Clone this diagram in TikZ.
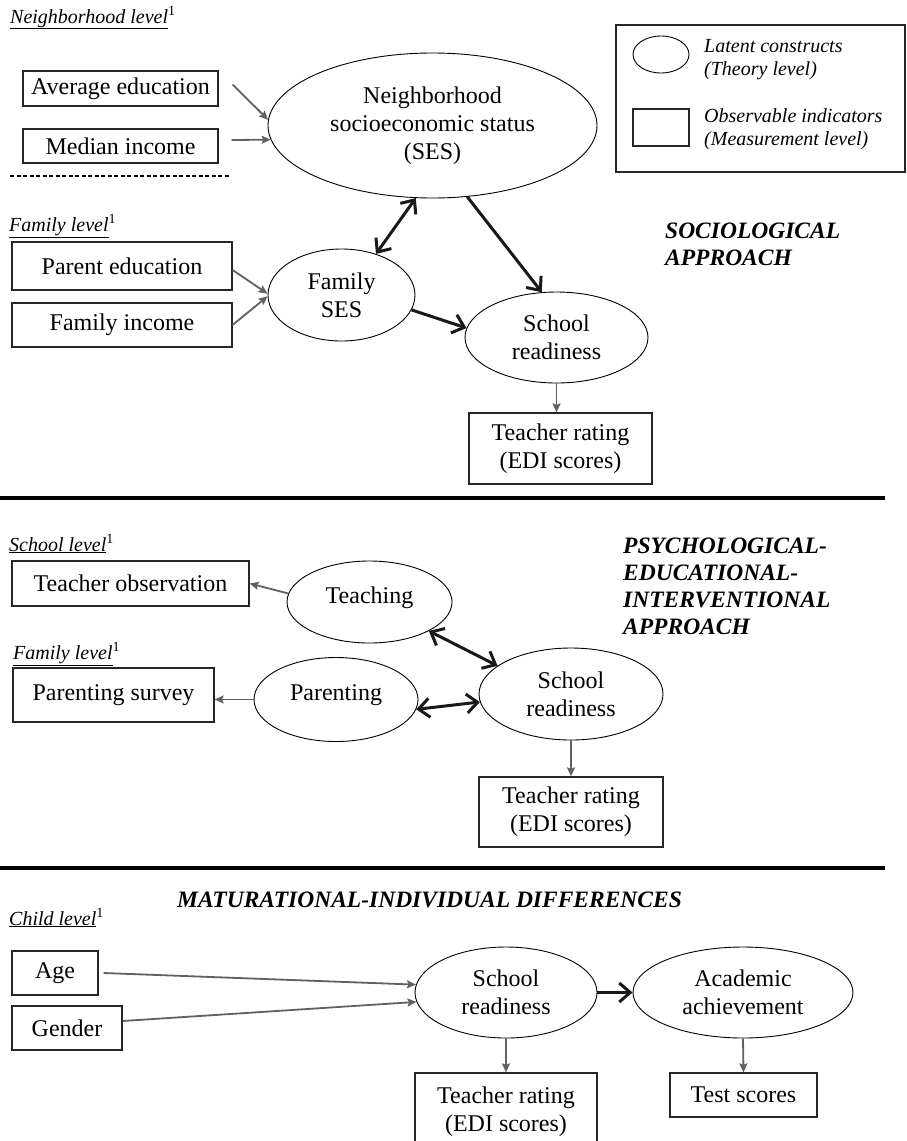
\documentclass[tikz,border=0pt]{standalone}
\usepackage{fontspec}
\setmainfont{Liberation Serif}
\usetikzlibrary{arrows.meta,shapes.geometric}
\newcommand{\nodefont}{\fontsize{24}{28}\selectfont}
\newcommand{\lvlfont}{\fontsize{20}{23}\selectfont}
\newcommand{\appfont}{\fontsize{23.5}{27}\selectfont\bfseries\itshape}
\begin{document}
\begin{tikzpicture}[x=1pt,y=-1pt,
  box/.style={draw=black!85, line width=1.2pt, rectangle, inner sep=0pt, font=\nodefont, align=center},
  lat/.style={draw, line width=0.9pt, ellipse, inner sep=0pt, font=\nodefont, align=center},
  garrow/.style={draw=black!62, line width=1.8pt, -{Stealth[length=9pt,width=8pt,inset=1.5pt]}},
  barrow/.style={draw=black!90, line width=3pt, -{Straight Barb[length=11pt,width=19pt]}},
  bdarrow/.style={draw=black!90, line width=3pt, {Straight Barb[length=11pt,width=19pt]}-{Straight Barb[length=11pt,width=19pt]}},
  lvl/.style={anchor=base west, inner sep=0pt, font=\lvlfont},
  app/.style={anchor=west, inner sep=0pt, align=left, font=\appfont},
  sepline/.style={line width=3.3pt, black},
  legtext/.style={anchor=west, inner sep=0pt, align=left, font=\lvlfont\itshape}
]
\useasboundingbox (0,0) rectangle (907,1141);
\clip (0,0) rectangle (907,1141);

% ---------------- Sociological approach ----------------
\node[lvl] (nlvl) at (10,23) {\underline{\textit{Neighborhood level}}\textsuperscript{1}};
\node[box, minimum width=195pt, minimum height=35pt] (avged) at (120.5,88.5) {Average education};
\node[box, minimum width=195pt, minimum height=34pt] (medinc) at (120.5,146) {Median income};
\draw[line width=1.3pt, dash pattern=on 4pt off 2.5pt] (10,176) -- (230,176);
\node[lat, minimum width=329pt, minimum height=145pt] (nses) at (432.5,125.5) {Neighborhood\\socioeconomic status\\(SES)};

\node[draw=black!85, line width=1.2pt, minimum width=289pt, minimum height=147pt, inner sep=0pt] (legend) at (760.5,98.5) {};
\node[lat, minimum width=56pt, minimum height=37pt] (lgell) at (661,54.5) {};
\node[box, minimum width=56pt, minimum height=37pt] (lgbox) at (661,127.5) {};
\node[legtext] (lgt1) at (704,59.5) {Latent constructs\\(Theory level)};
\node[legtext] (lgt2) at (704,129.5) {Observable indicators\\(Measurement level)};

\node[lvl] (flvl) at (9,231) {\underline{\textit{Family level}}\textsuperscript{1}};
\node[box, minimum width=220pt, minimum height=48pt] (pared) at (122,266) {Parent education};
\node[box, minimum width=220pt, minimum height=44pt] (faminc) at (122,325) {Family income};
\node[lat, minimum width=147pt, minimum height=92pt] (fses) at (341.5,295) {Family\\SES};
\node[lat, minimum width=183pt, minimum height=91pt] (sr1) at (556.5,337.5) {School\\readiness};
\node[box, minimum width=183pt, minimum height=71pt] (tr1) at (560.5,448.5) {Teacher rating\\(EDI scores)};
\node[app] (soc) at (665,244) {SOCIOLOGICAL\\APPROACH};

\draw[garrow] ([xshift=14pt,yshift=4pt]avged.east) -- (nses.178);
\draw[garrow] ([xshift=13pt,yshift=6pt]medinc.east) -- (nses.185);
\draw[garrow] ([yshift=-4pt]pared.east) -- (fses.179);
\draw[garrow] (faminc.east) -- (fses.181);
\draw[bdarrow] (fses.50) -- (nses.257);
\draw[barrow] (nses.296) -- (sr1.108);
\draw[barrow] (fses.348) -- (sr1.174);
\draw[garrow] (sr1.south) -- (sr1.south |- tr1.north);

\draw[sepline] (0,498) -- (885,498);

% ---------------- Psychological approach ----------------
\node[lvl] (slvl) at (9,551) {\underline{\textit{School level}}\textsuperscript{1}};
\node[box, minimum width=237pt, minimum height=45pt] (tobs) at (130.5,583.5) {Teacher observation};
\node[lat, minimum width=165pt, minimum height=82pt, text height=16pt, text depth=14pt] (teach) at (369.5,602) {Teaching};
\node[lvl] (flvl2) at (13,659) {\underline{\textit{Family level}}\textsuperscript{1}};
\node[box, minimum width=201pt, minimum height=54pt] (psurv) at (113.5,695) {Parenting survey};
\node[lat, minimum width=164pt, minimum height=84pt, text height=16pt, text depth=14pt] (parent) at (336,699.5) {Parenting};
\node[lat, minimum width=184pt, minimum height=92pt] (sr2) at (571,694) {School\\readiness};
\node[box, minimum width=184pt, minimum height=70pt] (tr2) at (571,812) {Teacher rating\\(EDI scores)};
\node[app] (psy) at (623,586) {PSYCHOLOGICAL-\\EDUCATIONAL-\\INTERVENTIONAL\\APPROACH};

\draw[garrow] (teach.174) -- (tobs.east);
\draw[garrow] (parent.west) -- (parent.west -| psurv.east);
\draw[bdarrow] (teach.334) -- (sr2.159);
\draw[bdarrow] (parent.353) -- (sr2.185);
\draw[garrow] (sr2.south) -- (tr2.north);

\draw[sepline] (0,868) -- (885,868);

% ---------------- Maturational approach ----------------
\node[app, anchor=base west] (mat) at (177,907) {MATURATIONAL-INDIVIDUAL DIFFERENCES};
\node[lvl] (clvl) at (9,925) {\underline{\textit{Child level}}\textsuperscript{1}};
\node[box, minimum width=86pt, minimum height=44pt] (age) at (55,973) {Age};
\node[box, minimum width=110pt, minimum height=44pt] (gender) at (67,1028) {Gender};
\node[lat, minimum width=182pt, minimum height=91pt] (sr3) at (506,992.5) {School\\readiness};
\node[lat, minimum width=220pt, minimum height=91pt] (acad) at (743,992.5) {Academic\\achievement};
\node[box, minimum width=182pt, minimum height=77pt] (tr3) at (506,1111.5) {Teacher rating\\(EDI scores)};
\node[box, minimum width=147pt, minimum height=44pt] (test) at (743.5,1095) {Test scores};

\draw[garrow] ([xshift=5pt]age.east) -- (sr3.175);
\draw[garrow] ([yshift=7pt]gender.east) -- (sr3.186);
\draw[barrow] (sr3.east) -- (acad.west);
\draw[garrow] (sr3.south) -- (tr3.north);
\draw[garrow] (acad.south) -- (test.north);
\end{tikzpicture}
\end{document}
